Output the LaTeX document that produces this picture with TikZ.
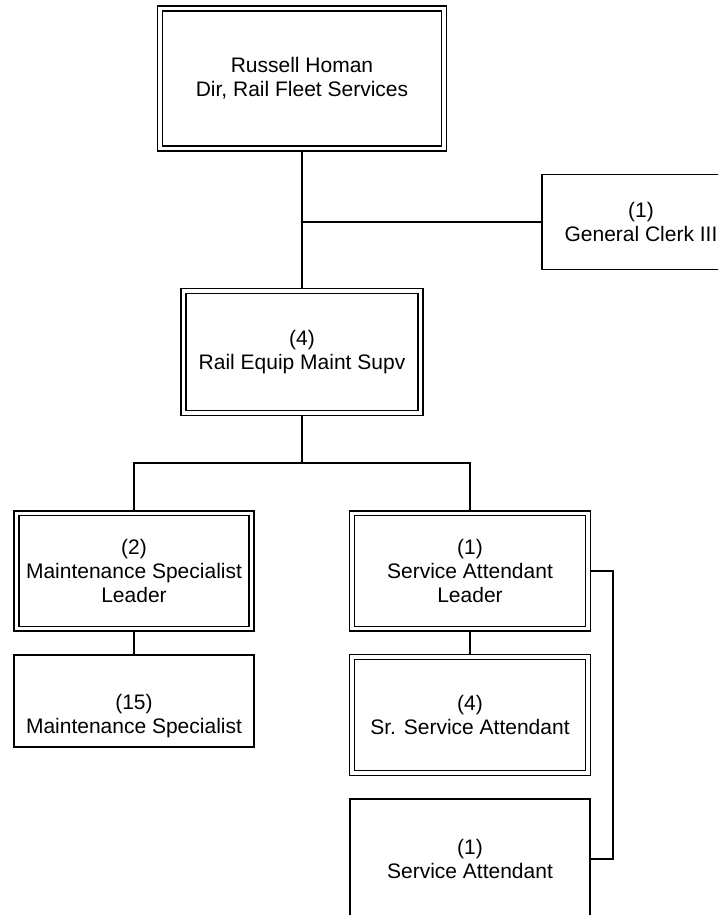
\documentclass[tikz,border=0pt]{standalone}
\usepackage{fontspec}
\setmainfont{Liberation Sans}
\usetikzlibrary{backgrounds}
\begin{document}
\begin{tikzpicture}[x=1pt,y=-1pt,
  every node/.style={font=\fontsize{21}{24}\selectfont, align=center, inner sep=0pt},
  sbox/.style={draw, line width=1.9pt},
  dbox/.style={draw, line width=1.5pt, double, double distance=3.2pt},
  link/.style={line width=1.9pt}]
\clip (0,0) rectangle (718,915);
\node[dbox, minimum width=284pt, minimum height=140pt] (dir) at (302,78.5) {Russell Homan\\Dir, Rail Fleet Services};
\node[sbox, minimum width=198pt, minimum height=95pt] (gc) at (641,222) {(1)\\General Clerk III};
\node[dbox, minimum width=237pt, minimum height=122pt] (sup) at (302,352) {(4)\\Rail Equip Maint Supv};
\node[dbox, minimum width=235pt, minimum height=115.5pt] (msl) at (134,571) {(2)\\Maintenance Specialist\\Leader};
\node[dbox, minimum width=236pt, minimum height=115.5pt] (sal) at (470,571) {(1)\\Service Attendant\\Leader};
\node[sbox, minimum width=240pt, minimum height=92pt] (ms) at (134,701) {};
\node (mstext) at (134,716) {(15)\\Maintenance Specialist};
\node[dbox, minimum width=236pt, minimum height=116pt] (ssa) at (470,715) {(4)\\Sr. Service Attendant};
\node[sbox, minimum width=240pt, minimum height=120pt] (sa) at (470,859) {(1)\\Service Attendant};
\coordinate (bus) at (302,463);
\begin{scope}[on background layer]
\draw[link] (dir.south) -- (sup.north);
\draw[link] (dir.south |- gc.west) -- (gc.west);
\draw[link] (sup.south) -- (bus);
\draw[link] (msl.north) |- (bus) -| (sal.north);
\draw[link] (msl.south) -- (ms.north);
\draw[link] (sal.south) -- (ssa.north);
\draw[link] (sal.east) -- ++(24,0) |- (sa.east);
\end{scope}
\end{tikzpicture}
\end{document}
